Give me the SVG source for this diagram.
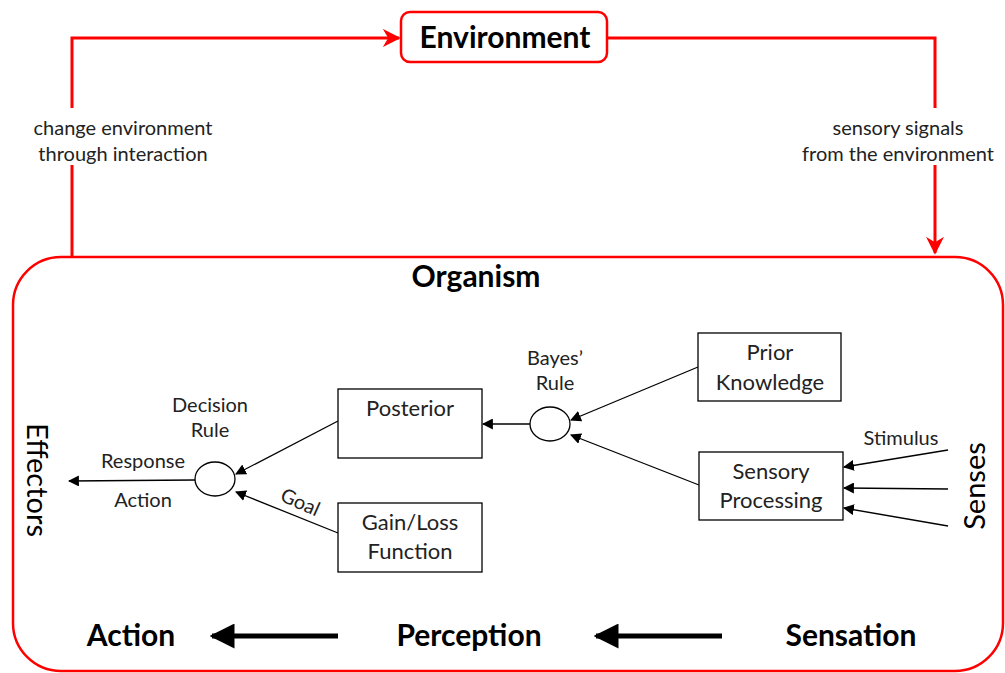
<svg xmlns="http://www.w3.org/2000/svg" width="1005" height="673" viewBox="0 0 1005 673">
<style>
.red{fill:none;stroke:#f00;stroke-width:3}
.box{fill:#fff;stroke:#000;stroke-width:1.3}
.ln{fill:none;stroke:#000;stroke-width:1.3}
.t{font-family:Lato,"Open Sans",sans-serif;fill:#000;text-anchor:middle}
.sm{font-size:20px;fill:#222}
.md{font-size:22px;fill:#222}
.lb{font-size:20px;fill:#222}
.bd{font-weight:bold;font-size:30px}
.side{font-size:29px}
</style>
<defs>
<marker id="ar" viewBox="0 0 10 10" refX="9" refY="5" markerWidth="11" markerHeight="11" markerUnits="userSpaceOnUse" orient="auto"><path d="M0,0L10,5L0,10z" fill="#000"/></marker>
<marker id="rr" viewBox="0 0 10 10" refX="9" refY="5" markerWidth="6" markerHeight="6" orient="auto"><path d="M0,0L10,5L0,10L3,5z" fill="#f00"/></marker>
<marker id="bk" viewBox="0 0 10 10" refX="9" refY="5" markerWidth="5" markerHeight="5" orient="auto"><path d="M0,0L10,5L0,10z" fill="#000"/></marker>
</defs>
<g id="connectors">
<path class="red" d="M72,108V38H399" marker-end="url(#rr)"/>
<path class="red" d="M72,165V258"/>
<path class="red" d="M607,38H935V108"/>
<path class="red" d="M935,165V253" marker-end="url(#rr)"/>
<line class="ln" x1="530" y1="424" x2="483" y2="424" marker-end="url(#ar)"/>
<line class="ln" x1="698" y1="367" x2="571" y2="420" marker-end="url(#ar)"/>
<line class="ln" x1="699" y1="485" x2="571" y2="435" marker-end="url(#ar)"/>
<line class="ln" x1="338" y1="421" x2="236" y2="474" marker-end="url(#ar)"/>
<line class="ln" x1="338" y1="533" x2="236" y2="492" marker-end="url(#ar)"/>
<line class="ln" x1="195" y1="480" x2="69" y2="481" marker-end="url(#ar)"/>
<line class="ln" x1="948" y1="450" x2="844" y2="467" marker-end="url(#ar)"/>
<line class="ln" x1="948" y1="489" x2="844" y2="488" marker-end="url(#ar)"/>
<line class="ln" x1="948" y1="526" x2="844" y2="508" marker-end="url(#ar)"/>
<line x1="338" y1="636" x2="212" y2="636" stroke="#000" stroke-width="5" marker-end="url(#bk)"/>
<line x1="722" y1="636" x2="596" y2="636" stroke="#000" stroke-width="5" marker-end="url(#bk)"/>
</g>
<g id="environment">
<rect x="401" y="12" width="206" height="50" rx="9" fill="#fff" stroke="#f00" stroke-width="2.5"/>
<text class="t bd" x="505" y="48">Environment</text>
</g>
<g id="label-change">
<text class="t sm" x="123" y="135">change environment</text>
<text class="t sm" x="123" y="161">through interaction</text>
</g>
<g id="label-sensory">
<text class="t sm" x="898" y="135">sensory signals</text>
<text class="t sm" x="898" y="161">from the environment</text>
</g>
<g id="organism">
<rect x="13" y="257" width="990" height="414" rx="48" fill="none" stroke="#f00" stroke-width="2.5"/>
<text class="t bd" x="476" y="287">Organism</text>
</g>
<g id="posterior">
<rect class="box" x="338" y="389" width="144" height="69"/>
<text class="t md" x="410" y="416">Posterior</text>
</g>
<g id="gainloss">
<rect class="box" x="338" y="503" width="144" height="69"/>
<text class="t md" x="410" y="530">Gain/Loss</text>
<text class="t md" x="410" y="559">Function</text>
</g>
<g id="prior">
<rect class="box" x="698" y="333" width="143" height="68"/>
<text class="t md" x="770" y="360">Prior</text>
<text class="t md" x="770" y="390">Knowledge</text>
</g>
<g id="sensoryproc">
<rect class="box" x="699" y="452" width="144" height="68"/>
<text class="t md" x="771" y="479">Sensory</text>
<text class="t md" x="771" y="508">Processing</text>
</g>
<g id="bayes">
<ellipse class="box" cx="550" cy="424" rx="20" ry="17"/>
<text class="t lb" x="555" y="365">Bayes’</text>
<text class="t lb" x="555" y="390">Rule</text>
</g>
<g id="decision">
<ellipse class="box" cx="215" cy="479" rx="20" ry="17"/>
<text class="t lb" x="210" y="412">Decision</text>
<text class="t lb" x="210" y="437">Rule</text>
</g>
<g id="labels">
<text class="t lb" x="143" y="468">Response</text>
<text class="t lb" x="143" y="507">Action</text>
<text class="t lb" x="300" y="509" transform="rotate(24 300 503)">Goal</text>
<text class="t lb" x="901" y="445">Stimulus</text>
</g>
<g id="effectors">
<text class="t side" x="37" y="480" transform="rotate(90 37 480)" dy="10">Effectors</text>
</g>
<g id="senses">
<text class="t side" x="975" y="486" transform="rotate(-90 975 486)" dy="10">Senses</text>
</g>
<g id="stages">
<text class="t bd" x="131" y="646">Action</text>
<text class="t bd" x="469" y="646">Perception</text>
<text class="t bd" x="851" y="646">Sensation</text>
</g>
</svg>
